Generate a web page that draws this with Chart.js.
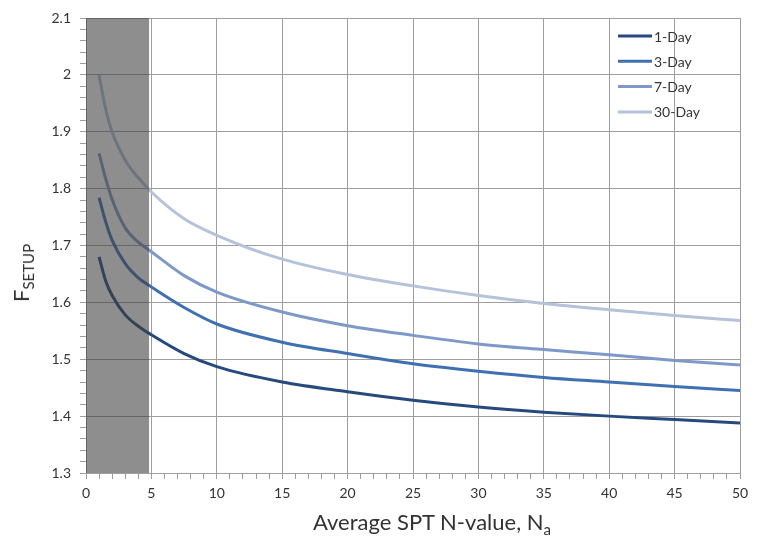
<!DOCTYPE html>
<html>
<head>
<meta charset="utf-8">
<script src="https://cdn.jsdelivr.net/npm/chart.js@4.4.1/dist/chart.umd.min.js"></script>
<style>
  body { margin: 0; background: #fff; }
  #wrap { position: relative; width: 760px; height: 548px; font-family: Lato, "Open Sans", sans-serif; color: #333; }
  #xTitle { position: absolute; left: 313px; top: 508px; font-size: 22px; white-space: nowrap; }
  #yTitle { position: absolute; left: 22px; top: 273px; font-size: 22px; white-space: nowrap;
            transform: translate(-50%, -50%) rotate(-90deg); }
  sub { font-size: 15px; vertical-align: -5px; }
</style>
</head>
<body>
<div id="wrap">
  <canvas id="fsetup" width="760" height="548"></canvas>
  <div id="xTitle">Average SPT N-value, N<sub>a</sub></div>
  <div id="yTitle">F<sub>SETUP</sub></div>
</div>
<script>
/* Data */
const nValues = [1, 1.5, 2, 3, 4, 5, 7.5, 10, 15, 20, 25, 30, 35, 40, 45, 50];
const day1  = [1.680, 1.638, 1.612, 1.578, 1.558, 1.543, 1.510, 1.487, 1.460, 1.443, 1.428, 1.416, 1.407, 1.400, 1.394, 1.388];
const day3  = [1.784, 1.742, 1.709, 1.668, 1.643, 1.627, 1.591, 1.562, 1.530, 1.510, 1.492, 1.479, 1.468, 1.460, 1.452, 1.445];
const day7  = [1.862, 1.818, 1.781, 1.731, 1.706, 1.689, 1.647, 1.618, 1.583, 1.559, 1.542, 1.527, 1.517, 1.508, 1.498, 1.490];
const day30 = [2.000, 1.940, 1.899, 1.850, 1.819, 1.794, 1.747, 1.718, 1.676, 1.649, 1.629, 1.612, 1.598, 1.587, 1.577, 1.568];
const seriesNames = ["1-Day", "3-Day", "7-Day", "30-Day"];
const shadedRange = [0, 4.82];

const colors = ["#264a7d", "#3f70b2", "#7e99c7", "#b4c2da"];
const gridGray = "#9e9e9e";

const toPoints = (vals) => vals.map((v, i) => ({ x: nValues[i], y: v }));

/* gray band over the low N range, drawn on top of the curves */
const shadePlugin = {
  id: "shade",
  afterDatasetsDraw(chart) {
    const { ctx, chartArea, scales } = chart;
    const x0 = scales.x.getPixelForValue(shadedRange[0]);
    const x1 = scales.x.getPixelForValue(shadedRange[1]);
    ctx.save();
    ctx.fillStyle = "rgba(60,60,60,0.58)";
    ctx.fillRect(x0, chartArea.top, x1 - x0, chartArea.bottom - chartArea.top);
    ctx.restore();
  },
};

/* legend sitting inside the plot, top right */
const insideLegend = {
  id: "insideLegend",
  afterDraw(chart) {
    const { ctx, chartArea } = chart;
    const left = chartArea.right - 122;
    const top = chartArea.top + 18;
    ctx.save();
    ctx.font = "14px Lato, 'Open Sans', sans-serif";
    ctx.textBaseline = "middle";
    chart.data.datasets.forEach((ds, i) => {
      const y = top + i * 25.3;
      ctx.strokeStyle = ds.borderColor;
      ctx.lineWidth = 3;
      ctx.beginPath();
      ctx.moveTo(left, y);
      ctx.lineTo(left + 34, y);
      ctx.stroke();
      ctx.fillStyle = "#333";
      ctx.fillText(ds.label, left + 36, y + 1);
    });
    ctx.restore();
  },
};

const isMultiple = (v, step) => Math.abs(Math.round(v / step) * step - v) < 1e-6;

new Chart(document.getElementById("fsetup"), {
  type: "line",
  data: {
    datasets: [day1, day3, day7, day30].map((vals, i) => ({
      label: seriesNames[i],
      data: toPoints(vals),
      borderColor: colors[i],
      borderWidth: 3,
      pointRadius: 0,
      fill: false,
      cubicInterpolationMode: "monotone",
    })),
  },
  options: {
    responsive: false,
    animation: false,
    layout: { padding: { top: 18, right: 20, left: 0, bottom: 0 } },
    plugins: { legend: { display: false }, tooltip: { enabled: false } },
    scales: {
      x: {
        type: "linear",
        min: 0,
        max: 50,
        afterFit: (s) => { s.height = 75; },
        ticks: {
          stepSize: 1,
          autoSkip: false,
          maxRotation: 0,
          padding: 6,
          color: "#333",
          font: { family: "Lato, 'Open Sans', sans-serif", size: 14 },
          callback: (v) => (isMultiple(v, 5) ? String(v) : ""),
        },
        grid: {
          color: (c) => (isMultiple(c.tick.value, 5) ? gridGray : "rgba(0,0,0,0)"),
          tickColor: gridGray,
          tickLength: 6,
          lineWidth: 1,
        },
        border: { color: gridGray },
      },
      y: {
        min: 1.3,
        max: 2.1,
        afterFit: (s) => { s.width = 86; },
        ticks: {
          stepSize: 0.02,
          autoSkip: false,
          padding: 9,
          color: "#333",
          font: { family: "Lato, 'Open Sans', sans-serif", size: 14 },
          callback: (v) => (isMultiple(v, 0.1) ? String(Number(v.toFixed(1))) : ""),
        },
        grid: {
          color: (c) => (isMultiple(c.tick.value, 0.1) ? gridGray : "rgba(0,0,0,0)"),
          tickColor: gridGray,
          tickLength: 6,
          lineWidth: 1,
        },
        border: { color: gridGray },
      },
    },
  },
  plugins: [shadePlugin, insideLegend],
});
</script>
</body>
</html>
